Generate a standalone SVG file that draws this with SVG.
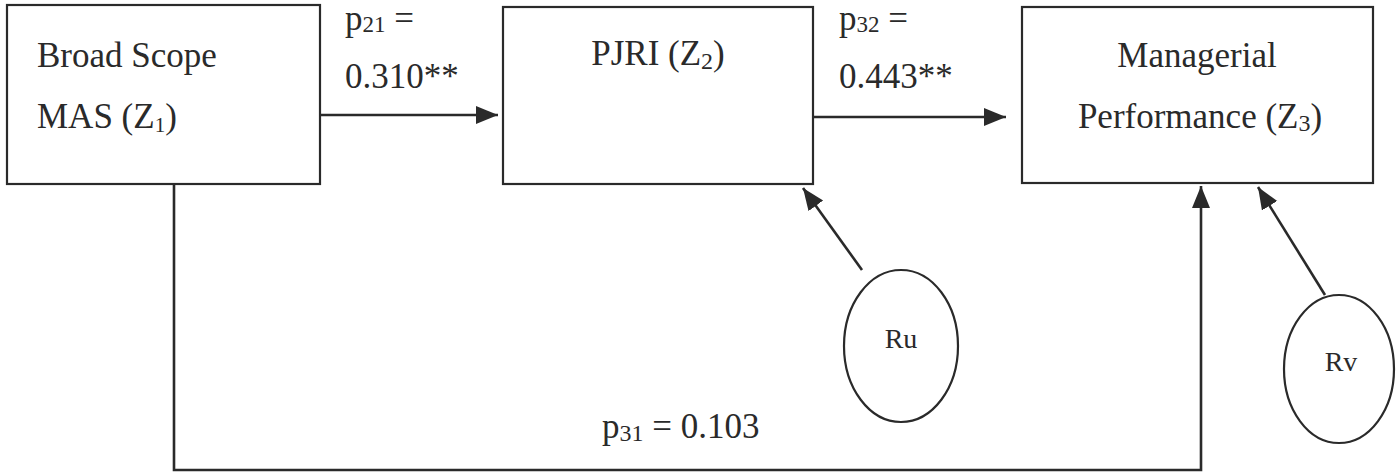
<svg xmlns="http://www.w3.org/2000/svg" width="1399" height="474" viewBox="0 0 1399 474">
<style>
.box{fill:#fff;stroke:#2a2a2a;stroke-width:2.2}
.ell{fill:#fff;stroke:#2a2a2a;stroke-width:2.2}
.t{font-family:"Liberation Serif","Times New Roman",serif;font-size:35px;fill:#2a2a2a}
.s{font-size:23px}
.small{font-family:"Liberation Serif","Times New Roman",serif;font-size:28px;fill:#2a2a2a}
.c{fill:none;stroke:#2a2a2a;stroke-width:2.6}
</style>
<defs>
<marker id="ah" markerUnits="userSpaceOnUse" markerWidth="24" markerHeight="20" refX="22" refY="9" orient="auto">
<path d="M0,0 L22,9 L0,18 z" fill="#2a2a2a"/>
</marker>
</defs>
<rect width="1399" height="474" fill="#fff"/>
<g id="connectors">
<line class="c" x1="320" y1="115" x2="498" y2="115" marker-end="url(#ah)"/>
<line class="c" x1="813" y1="117" x2="1006" y2="117" marker-end="url(#ah)"/>
<polyline class="c" points="174,184 174,470 1201,470 1201,186" marker-end="url(#ah)"/>
<line class="c" x1="862" y1="270" x2="803" y2="188" marker-end="url(#ah)"/>
<line class="c" x1="1325" y1="295" x2="1258" y2="187" marker-end="url(#ah)"/>
<text class="t" x="345" y="30">p<tspan class="s" dy="2">21</tspan><tspan dy="-2"> =</tspan></text>
<text class="t" x="345" y="88">0.310**</text>
<text class="t" x="839" y="30">p<tspan class="s" dy="2">32</tspan><tspan dy="-2"> =</tspan></text>
<text class="t" x="839" y="88">0.443**</text>
<text class="t" x="602" y="438" style="font-size:35px">p<tspan class="s" dy="3" style="font-size:24px">31</tspan><tspan dy="-3"> = 0.103</tspan></text>
</g>
<g id="node-z1">
<rect class="box" x="7" y="5" width="313" height="179"/>
<text class="t" x="37" y="67">Broad Scope</text>
<text class="t" x="37" y="128">MAS (Z<tspan class="s" dy="4" style="font-size:21px">1</tspan><tspan dy="-4">)</tspan></text>
</g>
<g id="node-z2">
<rect class="box" x="503" y="7" width="310" height="177"/>
<text class="t" x="658" y="65" text-anchor="middle">PJRI (Z<tspan class="s" dy="4" style="font-size:24px">2</tspan><tspan dy="-4">)</tspan></text>
</g>
<g id="node-z3">
<rect class="box" x="1022" y="7" width="351" height="176"/>
<text class="t" x="1197" y="67" text-anchor="middle">Managerial</text>
<text class="t" x="1200" y="128" text-anchor="middle">Performance (Z<tspan class="s" dy="3" style="font-size:24px">3</tspan><tspan dy="-3">)</tspan></text>
</g>
<g id="node-ru">
<ellipse class="ell" cx="901" cy="346" rx="57" ry="76"/>
<text class="small" x="901" y="348" text-anchor="middle">Ru</text>
</g>
<g id="node-rv">
<ellipse class="ell" cx="1339" cy="369" rx="55" ry="74"/>
<text class="small" x="1341" y="371" text-anchor="middle">Rv</text>
</g>
</svg>
